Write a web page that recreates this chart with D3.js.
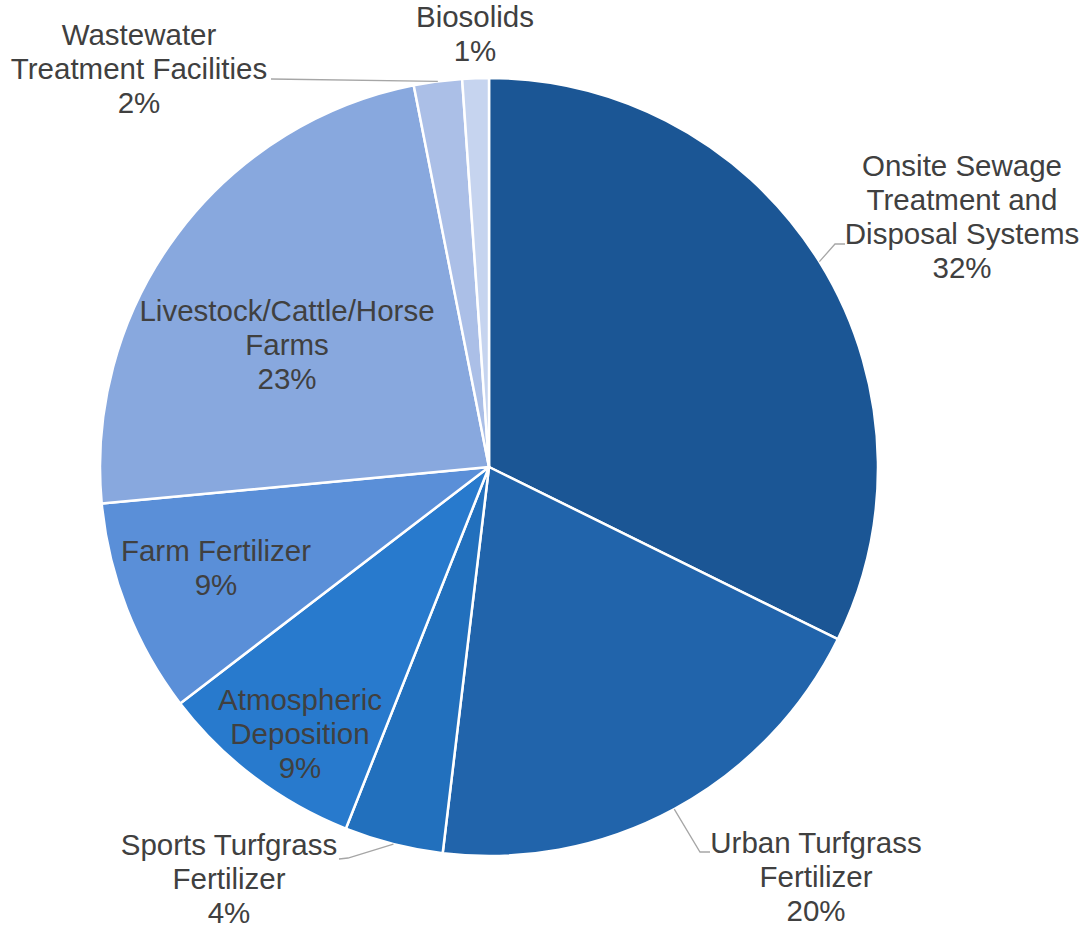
<!DOCTYPE html>
<html>
<head>
<meta charset="utf-8">
<script src="https://cdn.jsdelivr.net/npm/d3@7"></script>
<style>
  html, body { margin: 0; padding: 0; background: #fff; }
  svg { display: block; }
  .slice-label { font-family: "Liberation Sans", Arial, sans-serif; font-size: 29.5px; fill: #404040; }
</style>
</head>
<body>
<svg id="chart" width="1084" height="929"></svg>
<script>
// Sources of nitrogen loading (share of total, %)
const categories = [
  "Onsite Sewage Treatment and Disposal Systems",
  "Urban Turfgrass Fertilizer",
  "Sports Turfgrass Fertilizer",
  "Atmospheric Deposition",
  "Farm Fertilizer",
  "Livestock/Cattle/Horse Farms",
  "Wastewater Treatment Facilities",
  "Biosolids"
];
const shares = [32.3, 19.6, 4.1, 8.6, 8.9, 23.4, 2.0, 1.1];

// how each label is broken into lines
const labelLines = [
  ["Onsite Sewage", "Treatment and", "Disposal Systems"],
  ["Urban Turfgrass", "Fertilizer"],
  ["Sports Turfgrass", "Fertilizer"],
  ["Atmospheric", "Deposition"],
  ["Farm Fertilizer"],
  ["Livestock/Cattle/Horse", "Farms"],
  ["Wastewater", "Treatment Facilities"],
  ["Biosolids"]
];

const colors = ["#1b5695", "#2164ab", "#2270bd", "#287acd", "#5a8fd8", "#88a8de", "#abbfe7", "#c6d4ef"];

const width = 1084, height = 929;
const cx = 489, cy = 467, radius = 389;
const lineH = 34;

// label block placement: centre x, first baseline y, leader polyline (elbow points)
const labelPos = [
  { x: 962, y: 176, leader: [[835, 244], [845, 244]] },
  { x: 816, y: 853, leader: [[700, 852], [710, 852]] },
  { x: 229, y: 855, leader: [[348, 858], [339, 859]] },
  { x: 300, y: 710, leader: null },
  { x: 216, y: 561, leader: null },
  { x: 287, y: 321, leader: null },
  { x: 139, y: 45,  leader: [[271, 79]] },
  { x: 475, y: 27,  leader: null }
];

const svg = d3.select("#chart");
const g = svg.append("g").attr("transform", `translate(${cx},${cy})`);

const pie = d3.pie().sort(null).value(d => d)(shares);
const arc = d3.arc().innerRadius(0).outerRadius(radius);
const edgeArc = d3.arc().innerRadius(radius).outerRadius(radius);
const pct = d3.format(".0f");
const total = d3.sum(shares);

g.selectAll("path.slice")
  .data(pie)
  .enter()
  .append("path")
  .attr("class", "slice")
  .attr("d", arc)
  .attr("fill", (d, i) => colors[i])
  .attr("stroke", "#fff")
  .attr("stroke-width", 2.5)
  .attr("stroke-linejoin", "round");

// Leader lines
const line = d3.line();
pie.forEach((d, i) => {
  const p = labelPos[i];
  if (!p.leader) return;
  const [ex, ey] = edgeArc.centroid(d);
  const pts = [[cx + ex, cy + ey], ...p.leader];
  svg.append("path")
    .attr("d", line(pts))
    .attr("fill", "none")
    .attr("stroke", "#a6a6a6")
    .attr("stroke-width", 1.3);
});

// Labels
pie.forEach((d, i) => {
  const p = labelPos[i];
  const lines = labelLines[i].concat([pct(shares[i] / total * 100) + "%"]);
  const t = svg.append("text")
    .attr("class", "slice-label")
    .attr("text-anchor", "middle")
    .attr("x", p.x)
    .attr("y", p.y);
  lines.forEach((s, k) => {
    t.append("tspan")
      .attr("x", p.x)
      .attr("y", p.y + k * lineH)
      .text(s);
  });
});
</script>
</body>
</html>
